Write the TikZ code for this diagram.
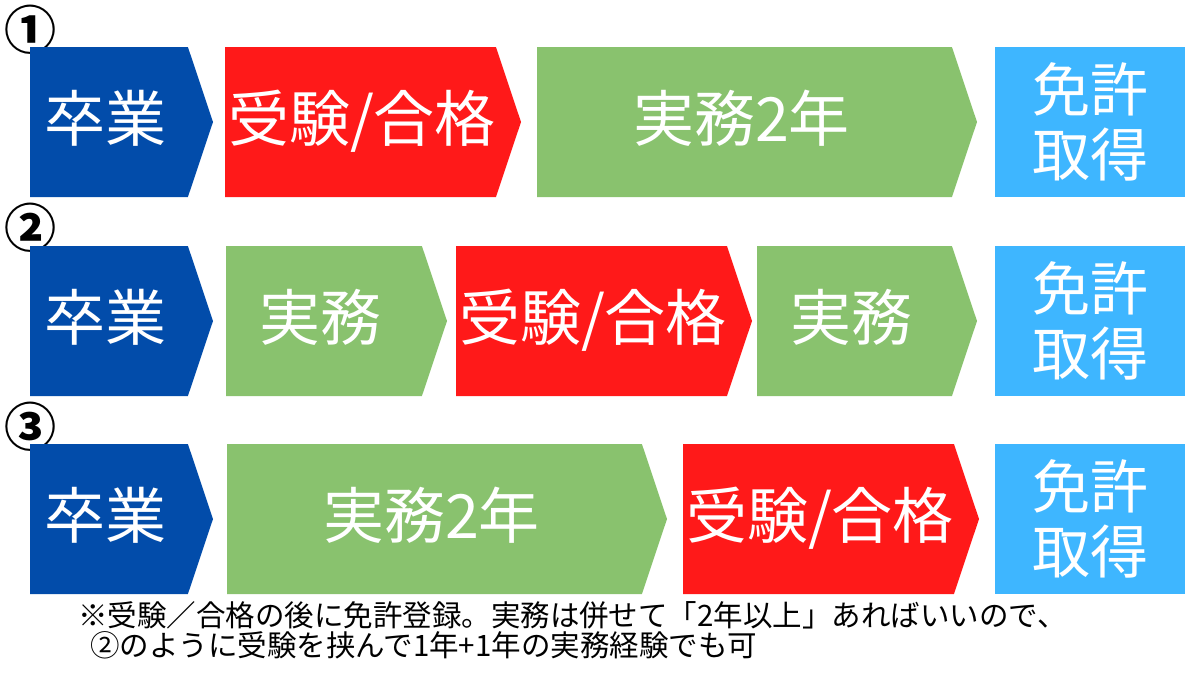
\documentclass[tikz,border=0pt]{standalone}
\usepackage{fontspec}
\setmainfont{Noto Sans CJK JP}
\usetikzlibrary{shapes.symbols}
\definecolor{gradblue}{RGB}{2,76,170}
\definecolor{examred}{RGB}{255,25,25}
\definecolor{workgreen}{RGB}{137,194,110}
\definecolor{licblue}{RGB}{62,182,255}

\begin{document}
\begin{tikzpicture}[x=1pt, y=-1pt]
	\tikzstyle{every node} = [inner sep=0pt, outer sep=0pt]
	\tikzstyle{flow} = [signal, signal to=east, signal pointer angle=143, minimum height=150pt, anchor=west, text=white, text height=39pt, text depth=0pt, font=\fontsize{61}{61}\selectfont]
	\tikzstyle{grad} = [flow, fill=gradblue, minimum width=183pt, execute at end node={\hspace{6pt}}]
	\tikzstyle{work} = [flow, fill=workgreen, execute at end node={\hspace{6pt}}]
	\tikzstyle{exam} = [flow, fill=examred, minimum width=292pt, execute at begin node={\hspace{3pt}}]
	\tikzstyle{goal} = [rectangle, fill=licblue, minimum width=190pt, minimum height=150pt, anchor=west, align=center, text=white, font=\fontsize{58}{65}\selectfont]
	\tikzstyle{num} = [text=black, font=\bfseries\fontsize{52}{52}\selectfont]
	\useasboundingbox (0,0) rectangle (1200,675);
	\node[num] (n1) at (31,30) {①};
	\node[num] (n2) at (31,228) {②};
	\node[num] (n3) at (31,427) {③};
	\node[grad] (g1) at (30,122) {卒業};
	\node[exam] (x1) at (225,122) {受験/合格};
	\node[work, minimum width=440pt] (w1) at (537,122) {実務2年};
	\node[goal] (l1) at (995,122) {免許\\取得};
	\node[grad] (g2) at (30,321) {卒業};
	\node[work, minimum width=221pt] (w2) at (226,321) {実務};
	\node[exam] (x2) at (456,321) {受験/合格};
	\node[work, minimum width=220pt] (v2) at (757,321) {実務};
	\node[goal] (l2) at (995,321) {免許\\取得};
	\node[grad] (g3) at (30,519) {卒業};
	\node[work, minimum width=440pt] (w3) at (227,519) {実務2年};
	\node[exam] (x3) at (683,519) {受験/合格};
	\node[goal] (l3) at (995,519) {免許\\取得};
	\node[text=black, anchor=north west, align=left, font=\fontsize{29.5}{30}\selectfont] (note) at (78,602) {※受験／合格の後に免許登録。実務は併せて「2年以上」あればいいので、\\\hspace{12pt}②のように受験を挟んで1年+1年の実務経験でも可};
\end{tikzpicture}
\end{document}
